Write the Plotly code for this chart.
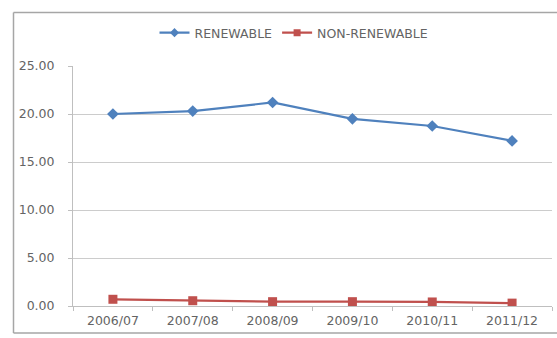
import plotly.graph_objects as go

years = ["2006/07", "2007/08", "2008/09", "2009/10", "2010/11", "2011/12"]
renewable = [20.0, 20.3, 21.2, 19.5, 18.75, 17.2]
non_renewable = [0.70, 0.55, 0.45, 0.45, 0.42, 0.30]
y_ticks = [0, 5, 10, 15, 20, 25]
y_tick_labels = ["0.00", "5.00", "10.00", "15.00", "20.00", "25.00"]

W, H = 557, 338
M = dict(l=73, r=5, t=66, b=32)
pw = W - M["l"] - M["r"]
ph = H - M["t"] - M["b"]


def px_x(x):
    return (x - M["l"]) / pw


def px_y(y):
    return (H - M["b"] - y) / ph


text_color = "#646464"
font = dict(family="DejaVu Sans, sans-serif", size=12.5, color=text_color)

blue = "#4F81BD"
red = "#C0504D"

series = [
    ("RENEWABLE", renewable, blue, "diamond", 9, 7),
    ("NON-RENEWABLE", non_renewable, red, "square", 9, 7),
]

fig = go.Figure()
for name, vals, color, sym, msize, lsize in series:
    fig.add_trace(go.Scatter(
        x=years, y=vals, name=name, mode="lines+markers", showlegend=False,
        line=dict(color=color, width=2.2),
        marker=dict(symbol=sym, size=msize, color=color),
    ))
for name, vals, color, sym, msize, lsize in series:
    # legend entries use smaller symbols than the plotted markers
    fig.add_trace(go.Scatter(
        x=[None], y=[None], name=name, mode="lines+markers",
        line=dict(color=color, width=2.2),
        marker=dict(symbol=sym, size=lsize, color=color),
    ))

# chart frame: left, top and bottom edges (right edge runs off the page)
frame = dict(color="#A6A6A6", width=1.5)
fx0, fx1, fy0, fy1 = px_x(13.5), px_x(W + 2), px_y(333), px_y(12.5)
for x0, y0, x1, y1 in [(fx0, fy0, fx0, fy1), (fx0, fy1, fx1, fy1), (fx0, fy0, fx1, fy0)]:
    fig.add_shape(type="line", xref="paper", yref="paper",
                  x0=x0, y0=y0, x1=x1, y1=y1, line=frame, layer="above")

fig.update_layout(
    width=W, height=H, margin=M,
    paper_bgcolor="white", plot_bgcolor="white",
    font=font,
    showlegend=True,
    legend=dict(orientation="h", x=px_x(294), xanchor="center", y=px_y(33), yanchor="middle",
                font=dict(family="DejaVu Sans, sans-serif", size=12.5, color=text_color),
                itemwidth=30, bgcolor="rgba(0,0,0,0)"),
    xaxis=dict(
        type="category", tickson="boundaries", ticks="outside", ticklen=4,
        tickcolor="#BFBFBF", showline=True, linecolor="#BFBFBF", linewidth=1,
        showgrid=False, range=[-0.5, 5.5], tickfont=font,
        ticklabelstandoff=3,
    ),
    yaxis=dict(
        range=[0, 25], tickvals=y_ticks, ticktext=y_tick_labels,
        ticks="outside", ticklen=4, tickcolor="#BFBFBF",
        showline=True, linecolor="#BFBFBF", linewidth=1,
        showgrid=True, gridcolor="#CCCCCC", gridwidth=1,
        zeroline=False, tickfont=font, ticklabelstandoff=11,
    ),
)

fig.write_html("out.html")
